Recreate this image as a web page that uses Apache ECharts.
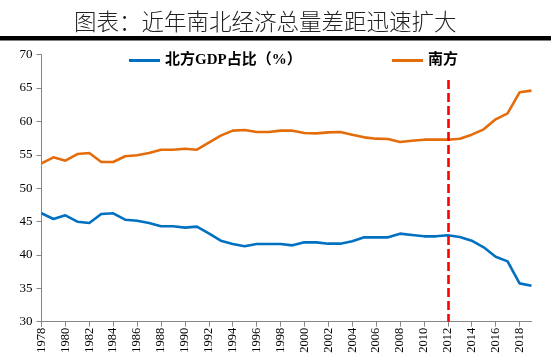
<!DOCTYPE html>
<html><head><meta charset="utf-8">
<script src="https://cdn.jsdelivr.net/npm/echarts@6/dist/echarts.min.js"></script>
<style>html,body{margin:0;padding:0;background:#fff}#c{width:551px;height:362px}</style>
</head><body><div id="c"></div>
<script>
var years = [];
for (var y = 1978; y <= 2019; y++) years.push(String(y));
var northShare = [46.24,45.39,45.94,44.98,44.79,46.13,46.24,45.28,45.13,44.79,44.29,44.29,44.09,44.24,43.24,42.14,41.64,41.29,41.64,41.64,
  41.64,41.44,41.89,41.89,41.69,41.69,42.04,42.64,42.64,42.64,43.19,42.99,42.79,42.79,42.94,42.69,42.14,41.14,39.74,39.04,35.74,35.39];
var southShare = [53.73,54.63,54.12,55.12,55.27,53.93,53.93,54.78,54.93,55.27,55.77,55.77,55.92,55.77,56.82,57.87,58.62,58.72,58.42,58.42,
  58.62,58.62,58.27,58.22,58.37,58.42,58.02,57.62,57.42,57.37,56.93,57.12,57.27,57.27,57.27,57.42,58.02,58.82,60.32,61.22,64.37,64.62];
var markYear = '2012';
var yTicks = {min: 30, max: 70, interval: 5};
var titleText = '图表：近年南北经济总量差距迅速扩大';
var seriesNames = ['北方GDP占比（%）', '南方'];

var legendText = {fontFamily: 'Liberation Serif, Noto Sans CJK SC', fontSize: 15, fontWeight: 'bold', color: '#000'};
var chart = echarts.init(document.getElementById('c'));
chart.setOption({
  animation: false,
  backgroundColor: '#fff',
  title: {
    text: titleText, left: 69, top: 5,
    textStyle: {fontFamily: 'Noto Sans CJK SC', fontSize: 22.5, fontWeight: 300, color: '#222'}
  },
  graphic: [{type: 'rect', shape: {x: 0, y: 36, width: 551, height: 4.5}, style: {fill: '#000'}, silent: true}],
  legend: [
    {top: 48, left: 124, itemWidth: 31, itemHeight: 3, icon: 'rect', textStyle: legendText, data: [seriesNames[0]]},
    {top: 48, left: 387, itemWidth: 31, itemHeight: 3, icon: 'rect', textStyle: legendText, data: [seriesNames[1]]}
  ],
  grid: {left: 41.5, right: 19.5, top: 54.7, bottom: 40.3, containLabel: false},
  xAxis: {
    type: 'category', data: years, boundaryGap: false,
    axisLine: {lineStyle: {color: '#868686', width: 1}},
    axisTick: {interval: 1, length: 5, lineStyle: {color: '#868686'}},
    axisLabel: {interval: 1, rotate: 90, fontFamily: 'Liberation Serif', fontSize: 12.5, color: '#000', margin: 6}
  },
  yAxis: {
    type: 'value', min: yTicks.min, max: yTicks.max, interval: yTicks.interval,
    splitLine: {show: false},
    axisLine: {show: true, lineStyle: {color: '#868686', width: 1}},
    axisTick: {show: true, length: 5, lineStyle: {color: '#868686'}},
    axisLabel: {fontFamily: 'Liberation Serif', fontSize: 13, color: '#000', margin: 9}
  },
  series: [
    {
      name: seriesNames[0], type: 'line', data: northShare, symbol: 'none',
      lineStyle: {color: '#0070C0', width: 2.6}, itemStyle: {color: '#0070C0'},
      markLine: {
        symbol: 'none', silent: true, label: {show: false},
        lineStyle: {color: '#FF0000', type: [9, 4], width: 2.6},
        data: [[{coord: [markYear, 66.2]}, {coord: [markYear, 30]}]]
      }
    },
    {
      name: seriesNames[1], type: 'line', data: southShare, symbol: 'none',
      lineStyle: {color: '#E46C0A', width: 2.6}, itemStyle: {color: '#E46C0A'}
    }
  ]
});
</script></body></html>
